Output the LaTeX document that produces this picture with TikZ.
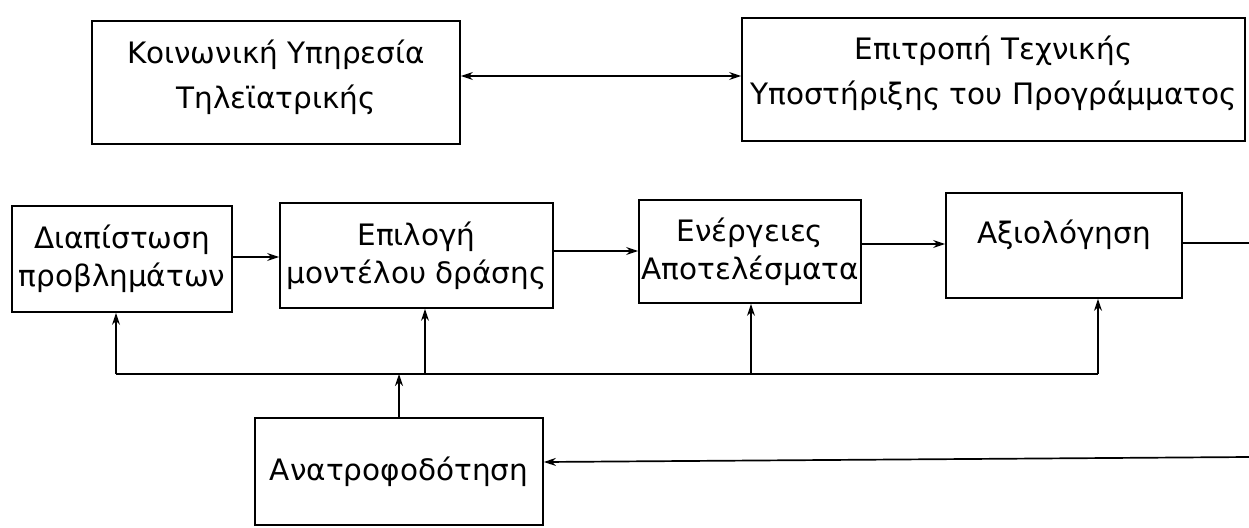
\documentclass[tikz,border=0pt]{standalone}
\usepackage{fontspec}
\setmainfont{DejaVu Sans}
\usetikzlibrary{arrows.meta}
\begin{document}
\begin{tikzpicture}[x=1pt,y=-1pt,
  box/.style={draw, line width=1.8pt, inner sep=0pt, align=center},
  topfont/.style={font=\fontsize{29.5}{45}\selectfont},
  midfont/.style={font=\fontsize{29.5}{38}\selectfont},
  ln/.style={line width=1.7pt},
  arr/.style={line width=1.7pt, -{Stealth[length=12pt,width=8pt]}},
  darr/.style={line width=1.7pt, {Stealth[length=12pt,width=8pt]}-{Stealth[length=12pt,width=8pt]}}]
\useasboundingbox (0,0) rectangle (1249,527);
\fill[white] (0,0) rectangle (1249,527);
% top row
\node[box, topfont, minimum width=368pt, minimum height=123pt, text depth=17pt] (A) at (276,82.5) {Κοινωνική Υπηρεσία\\Τηλεϊατρικής};
\node[box, topfont, minimum width=503pt, minimum height=123pt, text depth=18pt] (B) at (993.5,79.5) {Επιτροπή Τεχνικής\\Υποστήριξης του Προγράμματος};
\coordinate (ab) at (600,76);
\draw[darr] (A.east |- ab) -- (B.west |- ab);
% middle row
\node[box, midfont, minimum width=220pt, minimum height=106pt] (C) at (122,259) {Διαπίστωση\\προβλημάτων};
\node[box, midfont, minimum width=273pt, minimum height=105pt] (D) at (416.5,255.5) {Επιλογή\\μοντέλου δράσης};
\node[box, midfont, minimum width=222pt, minimum height=103pt] (E) at (750,251.5) {Ενέργειες\\Αποτελέσματα};
\node[box, midfont, minimum width=236pt, minimum height=105pt, text depth=27pt] (F) at (1064,245.5) {Αξιολόγηση};
\coordinate (cd) at (0,257);
\coordinate (de) at (0,251);
\coordinate (ef) at (0,244);
\draw[arr] (C.east |- cd) -- (D.west |- cd);
\draw[arr] (D.east |- de) -- (E.west |- de);
\draw[arr] (E.east |- ef) -- (F.west |- ef);
\coordinate (out1) at (1249,243);
\draw[ln] (F.east |- out1) -- (out1);
% feedback bus
\coordinate (busL) at (116,374);
\coordinate (busR) at (1098,374);
\coordinate (busD) at (425,374);
\coordinate (busE) at (751,374);
\draw[ln] (busL) -- (busR);
\draw[arr] (busL) -- (C.south -| busL);
\draw[arr] (busD) -- (D.south -| busD);
\draw[arr] (busE) -- (E.south -| busE);
\draw[arr] (busR) -- (F.south -| busR);
% feedback box
\node[box, midfont, minimum width=288pt, minimum height=107pt] (G) at (399,471.5) {Ανατροφοδότηση};
\draw[arr] (G.north) -- (G.north |- busL);
\coordinate (in1) at (1249,457);
\draw[arr] (in1) -- (G.east |- 0,462);
\end{tikzpicture}
\end{document}
